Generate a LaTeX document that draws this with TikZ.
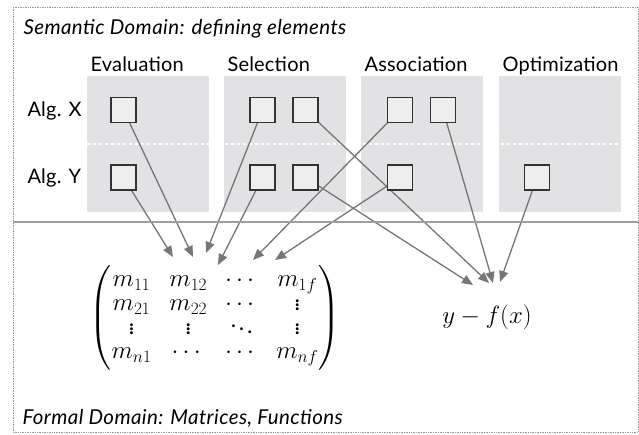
\documentclass[tikz,border=0pt]{standalone}
\usepackage{amsmath}
\usepackage{fontspec}
\setmainfont{Lato}
\usetikzlibrary{arrows.meta,
                backgrounds,
                positioning
            }

\definecolor{panelgray}{RGB}{226,226,228}
\definecolor{boxfill}{RGB}{238,238,238}
\definecolor{boxline}{RGB}{51,51,51}
\definecolor{linkgray}{RGB}{118,118,118}

\tikzset{
    elem/.style={draw=boxline, fill=boxfill, line width=1.3pt, minimum size=25pt, inner sep=0pt},
    panel/.style={fill=panelgray, minimum width=122pt, minimum height=136pt, anchor=north west, inner sep=0pt},
    head/.style={anchor=base west, font=\fontsize{20}{22}\selectfont\addfontfeatures{LetterSpace=1}},
    domaintitle/.style={anchor=base west, font=\fontsize{20.5}{22}\selectfont\itshape\addfontfeatures{LetterSpace=2}},
    link/.style={draw=linkgray, line width=1.3pt, -{Triangle[length=11pt,width=9pt]}}
}

\begin{document}
\begin{tikzpicture}[x=1pt, y=-1pt]
            \useasboundingbox (0,0) rectangle (639,434);
            \draw[gray!80, densely dotted, line width=0.7pt] (13,7) rectangle (638,432);
            \draw[gray!75, line width=1.2pt] (13,222) -- (638,222);

            \node[domaintitle] (semantic) at (20,34) {Semantic Domain: defining elements};
            \node[domaintitle] (formal) at (19,424) {Formal Domain: Matrices, Functions};

            \node[head] (hEval) at (87,71) {Evaluation};
            \node[head] (hSel) at (224,71) {Selection};
            \node[head] (hAssoc) at (361,71) {Association};
            \node[head] (hOpt) at (499,71) {Optimization};

            \node[head, anchor=west] (algX) at (24,111) {Alg. X};
            \node[head, anchor=west] (algY) at (24,178) {Alg. Y};

            % defining elements
            \node[elem] (eX) at (123.5,110) {};
            \node[elem] (eY) at (123.5,177.5) {};
            \node[elem] (sX1) at (262.5,110) {};
            \node[elem] (sX2) at (305.5,110) {};
            \node[elem] (sY1) at (262.5,177.5) {};
            \node[elem] (sY2) at (305.5,177.5) {};
            \node[elem] (aX1) at (400,110) {};
            \node[elem] (aX2) at (443,110) {};
            \node[elem] (aY1) at (400,177.5) {};
            \node[elem] (oY) at (537,177.5) {};

            % formal objects
            \node[font=\fontsize{23}{24}\selectfont] (mat) at (215,318) {\arraycolsep=9pt
                $\begin{pmatrix}
                    m_{11} & m_{12} & \cdots & m_{1f} \\
                    m_{21} & m_{22} & \cdots & \vdots \\
                    \vdots & \vdots & \ddots & \vdots \\
                    m_{n1} & \cdots & \cdots & m_{nf}
                \end{pmatrix}$};
            \node[font=\fontsize{23}{24}\selectfont] (fx) at (487,317) {$y - f(x)$};

            \coordinate (mIn1) at (173,257);
            \coordinate (mIn2) at (193,257);
            \coordinate (mIn3) at (206,253);
            \coordinate (mIn4) at (218,265);
            \coordinate (mIn5) at (253,260);
            \coordinate (mIn6) at (275,260);
            \coordinate (fIn1) at (473,285);
            \coordinate (fIn2) at (489,283);
            \coordinate (fIn3) at (493,283);
            \coordinate (fIn4) at (500,282);

            \begin{scope}[on background layer]
                \node[panel] (pEval) at (87,76) {};
                \node[panel] (pSel) at (224,76) {};
                \node[panel] (pAssoc) at (361,76) {};
                \node[panel] (pOpt) at (499,76) {};
                \draw[white, line width=2pt, dash pattern=on 3pt off 3pt] (pEval.west |- 0,144) -- (pOpt.east |- 0,144);

                \draw[link] (eY.center) -- (mIn1);
                \draw[link] (eX.center) -- (mIn2);
                \draw[link] (sX1.center) -- (mIn3);
                \draw[link] (sY1.center) -- (mIn4);
                \draw[link] (aX1.center) -- (mIn5);
                \draw[link] (aY1.center) -- (mIn6);
                \draw[link] (sY2.center) -- (fIn1);
                \draw[link] (sX2.center) -- (fIn2);
                \draw[link] (aX2.center) -- (fIn3);
                \draw[link] (oY.center) -- (fIn4);
            \end{scope}
        \end{tikzpicture}
\end{document}
